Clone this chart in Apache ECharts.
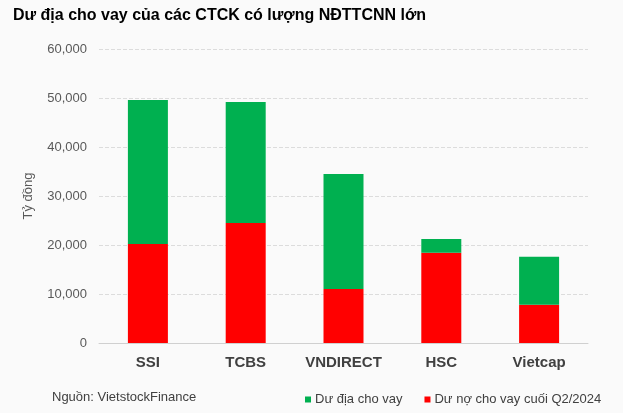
<!DOCTYPE html>
<html>
<head>
<meta charset="utf-8">
<script src="https://cdn.jsdelivr.net/npm/echarts@6/dist/echarts.min.js"></script>
<style>
  html, body { margin: 0; padding: 0; background: #fafafa; }
  #chart { width: 623px; height: 413px; }
</style>
</head>
<body>
<div id="chart"></div>
<script>
// Công ty chứng khoán
const categories = ['SSI', 'TCBS', 'VNDIRECT', 'HSC', 'Vietcap']
// Dư nợ cho vay cuối Q2/2024 (tỷ đồng)
const duNo = [20200, 24500, 11000, 18400, 7800]
// Dư địa cho vay còn lại (tỷ đồng)
const duDia = [29400, 24700, 23500, 2800, 9800]
const yTicks = [0, 10000, 20000, 30000, 40000, 50000, 60000]

const font = 'Arial, "Liberation Sans", sans-serif'

const chart = echarts.init(document.getElementById('chart'))

const option = {
  backgroundColor: '#fafafa',
  animation: false,
  title: {
    text: 'Dư địa cho vay của các CTCK có lượng NĐTTCNN lớn',
    left: 8,
    top: 3,
    textStyle: {
      fontFamily: font,
      fontSize: 16,
      fontWeight: 'bold',
      color: '#000',
    },
  },
  legend: {
    data: ['Dư địa cho vay', 'Dư nợ cho vay cuối Q2/2024'],
    left: 300,
    top: 388,
    icon: 'rect',
    itemWidth: 6,
    itemHeight: 6,
    itemGap: 22,
    textStyle: {
      fontFamily: font,
      fontSize: 13,
      color: '#404040',
      padding: [0, 0, 0, -1],
    },
  },
  graphic: [
    {
      type: 'text',
      left: 52,
      top: 391,
      style: {
        text: 'Nguồn: VietstockFinance',
        font: '13px ' + font,
        fill: '#404040',
      },
    },
  ],
  grid: {
    left: 99,
    right: 35,
    top: 49,
    bottom: 70,
  },
  xAxis: {
    type: 'category',
    data: categories,
    axisLine: { lineStyle: { color: '#d0d0d0' } },
    axisTick: { show: false },
    axisLabel: {
      interval: 0,
      margin: 12,
      fontFamily: font,
      fontSize: 15,
      fontWeight: 'bold',
      color: '#404040',
    },
  },
  yAxis: {
    type: 'value',
    min: yTicks[0],
    max: yTicks[yTicks.length - 1],
    interval: 10000,
    name: 'Tỷ đồng',
    nameLocation: 'middle',
    nameGap: 64,
    nameTextStyle: {
      fontFamily: font,
      fontSize: 13,
      color: '#595959',
    },
    axisLine: { show: false },
    axisTick: { show: false },
    axisLabel: {
      margin: 12,
      fontFamily: font,
      fontSize: 13,
      color: '#595959',
      formatter: (v) => v.toLocaleString('en-US'),
    },
    splitLine: {
      lineStyle: { color: '#dcdcdc', type: 'dashed' },
    },
  },
  series: [
    {
      name: 'Dư nợ cho vay cuối Q2/2024',
      type: 'bar',
      stack: 'total',
      barWidth: 40,
      data: duNo,
      itemStyle: { color: '#ff0000' },
    },
    {
      name: 'Dư địa cho vay',
      type: 'bar',
      stack: 'total',
      barWidth: 40,
      data: duDia,
      itemStyle: { color: '#00b050' },
    },
  ],
}

chart.setOption(option)
</script>
</body>
</html>
